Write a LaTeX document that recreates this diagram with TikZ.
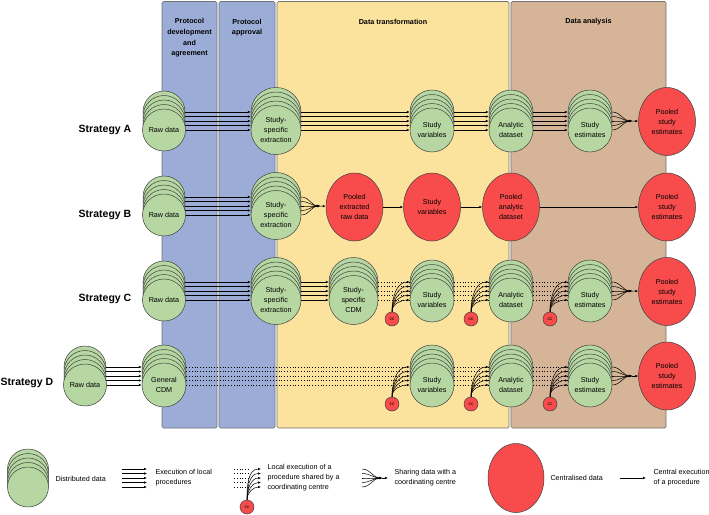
\documentclass[tikz,border=0pt]{standalone}
\usepackage{fontspec}
\setmainfont{Liberation Sans}
\usepackage{tikz}
\usetikzlibrary{shapes.geometric, arrows.meta}

\definecolor{bandblue}{RGB}{155,173,214}
\definecolor{bandyellow}{RGB}{251,226,157}
\definecolor{bandbrown}{RGB}{213,180,152}
\definecolor{distgreen}{RGB}{182,215,162}
\definecolor{centred}{RGB}{248,76,76}

\newcommand{\gstack}[6]{%
  \foreach \k in {4,3,2,1}
    \node[distnode, minimum width=#4pt, minimum height=#5pt] (#1\k) at (#2,#3-4.5*\k) {};
  \node[distnode, minimum width=#4pt, minimum height=#5pt, alias=#1] (#10) at (#2,#3) {#6};
}

\begin{document}
\begin{tikzpicture}[x=1pt, y=-1pt, font=\fontsize{7.2}{10}\selectfont,
  band/.style={draw=black!55, line width=0.7pt, rounded corners=1.5pt},
  bandhead/.style={font=\fontsize{7.2}{10.7}\selectfont\bfseries, align=center},
  strat/.style={font=\fontsize{10.5}{12}\selectfont\bfseries},
  distnode/.style={ellipse, draw=black!75, line width=0.5pt, fill=distgreen, inner sep=0pt, align=center},
  centnode/.style={ellipse, draw=black!75, line width=0.5pt, fill=centred, inner sep=0pt,
    minimum width=57pt, minimum height=68pt, align=center},
  ccnode/.style={circle, draw=black!75, line width=0.5pt, fill=centred, inner sep=0pt,
    minimum size=14pt, font=\fontsize{4.8}{5}\selectfont},
  local/.style={line width=0.5pt, -{Latex[length=3pt,width=2.4pt]}},
  share/.style={line width=0.5pt, -{Latex[length=3pt,width=2.4pt]}},
  central/.style={line width=0.5pt, -{Latex[length=3pt,width=2.4pt]}},
  dotline/.style={line width=0.6pt, dash pattern=on 0.6pt off 2.2pt},
  legtext/.style={anchor=west, align=left}]
  \useasboundingbox[fill=white] (0,0) rectangle (709,514);

  \draw[band, fill=bandblue] (162,1.5) rectangle (217,428);
  \draw[band, fill=bandblue] (219,1.5) rectangle (275,428);
  \draw[band, fill=bandyellow] (277,1.5) rectangle (509,428);
  \draw[band, fill=bandbrown] (511,1.5) rectangle (666,428);
  \node[bandhead] (hdev) at (189.5,38) {Protocol\\development\\and\\agreement};
  \node[bandhead] (happ) at (247,27.5) {Protocol\\approval};
  \node[bandhead] (htra) at (393,22) {Data transformation};
  \node[bandhead] (hana) at (588.5,22) {Data analysis};

  \node[strat] (sa) at (105,130) {Strategy A};
  \node[strat] (sb) at (105,215) {Strategy B};
  \node[strat] (sc) at (105,299) {Strategy C};
  \node[strat] (sd) at (27,383) {Strategy D};

  \gstack{rawa}{164}{130}{42}{42}{Raw data}
  \gstack{exta}{276}{130}{50}{49}{Study-\\specific\\extraction}
  \gstack{vara}{432}{130}{44}{44}{Study\\variables}
  \gstack{anaa}{511}{130}{44}{44}{Analytic\\dataset}
  \gstack{esta}{590}{130}{44}{44}{Study\\estimates}
  \node[centnode] (poola) at (667,121.5) {Pooled\\study\\estimates};
  \coordinate (fana) at (632,121);
  \foreach \k in {0,...,4} {
    \draw[local] (rawa\k) -- (exta\k);
    \draw[local] (exta\k) -- (vara\k);
    \draw[local] (vara\k) -- (anaa\k);
    \draw[local] (anaa\k) -- (esta\k);
    \draw[share] (esta\k.east) to[out=0,in=180] (fana);
  }
  \draw[central] (fana) -- (poola);

  \gstack{rawb}{164}{215}{42}{42}{Raw data}
  \gstack{extb}{276}{215}{50}{49}{Study-\\specific\\extraction}
  \node[centnode] (pexb) at (354.5,207) {Pooled\\extracted\\raw data};
  \node[centnode] (varb) at (432,207) {Study\\variables};
  \node[centnode] (panb) at (511,207) {Pooled\\analytic\\dataset};
  \node[centnode] (poolb) at (667,207) {Pooled\\study\\estimates};
  \coordinate (fanb) at (320,206);
  \foreach \k in {0,...,4} {
    \draw[local] (rawb\k) -- (extb\k);
    \draw[share] (extb\k.east) to[out=0,in=180] (fanb);
  }
  \draw[central] (fanb) -- (pexb);
  \draw[central] (pexb) -- (varb);
  \draw[central] (varb) -- (panb);
  \draw[central] (panb) -- (poolb);

  \gstack{rawc}{164}{300}{42}{42}{Raw data}
  \gstack{extc}{276}{300}{50}{49}{Study-\\specific\\extraction}
  \gstack{cdmc}{353.5}{300}{49}{49}{Study-\\specific\\CDM}
  \gstack{varc}{432}{300}{44}{44}{Study\\variables}
  \gstack{anac}{511}{300}{44}{44}{Analytic\\dataset}
  \gstack{estc}{590}{300}{44}{44}{Study\\estimates}
  \node[centnode] (poolc) at (667,291.5) {Pooled\\study\\estimates};
  \node[ccnode] (ccvarc) at (392,319) {cc};
  \node[ccnode] (ccanac) at (471,319) {cc};
  \node[ccnode] (ccestc) at (550,319) {cc};
  \coordinate (fanc) at (632,291);
  \foreach \k in {0,...,4} {
    \draw[local] (rawc\k) -- (extc\k);
    \draw[local] (extc\k) -- (cdmc\k);
    \draw[dotline] (cdmc\k) -- (varc\k);
    \draw[dotline] (varc\k) -- (anac\k);
    \draw[dotline] (anac\k) -- (estc\k);
    \draw[local] (ccvarc.north) to[out=90,in=180] (varc\k.west);
    \draw[local] (ccanac.north) to[out=90,in=180] (anac\k.west);
    \draw[local] (ccestc.north) to[out=90,in=180] (estc\k.west);
    \draw[share] (estc\k.east) to[out=0,in=180] (fanc);
  }
  \draw[central] (fanc) -- (poolc);

  \gstack{rawd}{85}{385}{42}{42}{Raw data}
  \gstack{cdmd}{164}{385}{44}{44}{General\\CDM}
  \gstack{vard}{432}{385}{44}{44}{Study\\variables}
  \gstack{anad}{511}{385}{44}{44}{Analytic\\dataset}
  \gstack{estd}{590}{385}{44}{44}{Study\\estimates}
  \node[centnode] (poold) at (667,376) {Pooled\\study\\estimates};
  \node[ccnode] (ccvard) at (392,404) {cc};
  \node[ccnode] (ccanad) at (471,404) {cc};
  \node[ccnode] (ccestd) at (550,404) {cc};
  \coordinate (fand) at (632,376);
  \foreach \k in {0,...,4} {
    \draw[local] (rawd\k) -- (cdmd\k);
    \draw[dotline] (cdmd\k) -- (vard\k);
    \draw[dotline] (vard\k) -- (anad\k);
    \draw[dotline] (anad\k) -- (estd\k);
    \draw[local] (ccvard.north) to[out=90,in=180] (vard\k.west);
    \draw[local] (ccanad.north) to[out=90,in=180] (anad\k.west);
    \draw[local] (ccestd.north) to[out=90,in=180] (estd\k.west);
    \draw[share] (estd\k.east) to[out=0,in=180] (fand);
  }
  \draw[central] (fand) -- (poold);

  \gstack{lgd}{28}{487}{41}{40}{}
  \node[legtext] (tdist) at (52,479) {Distributed data};
  \node[ccnode] (cclg) at (247,507) {cc};
  \coordinate (lgfan) at (382,478);
  \foreach \k in {0,...,4} {
    \coordinate (lla\k) at (122,469+4.5*\k);
    \coordinate (llb\k) at (147,469+4.5*\k);
    \draw[local] (lla\k) -- (llb\k);
    \coordinate (lda\k) at (234,469+4.5*\k);
    \coordinate (ldb\k) at (250,469+4.5*\k);
    \coordinate (ldc\k) at (261,469+4.5*\k);
    \draw[dotline] (lda\k) -- (ldb\k);
    \draw[local] (cclg.north) to[out=90,in=180] (ldc\k);
    \coordinate (lsa\k) at (362,469+4.5*\k);
    \draw[share] (lsa\k) to[out=0,in=180] (lgfan);
  }
  \node[legtext] (tloc) at (152,478) {Execution of local\\procedures};
  \node[legtext] (tcc) at (264,478) {Local execution of a\\procedure shared by a\\coordinating centre};
  \coordinate (lgend) at (388,478);
  \draw[central] (lgfan) -- (lgend);
  \node[legtext] (tsha) at (391,478) {Sharing data with a\\coordinating centre};
  \node[centnode, minimum width=56pt, minimum height=69pt] (lgcent) at (516,478) {};
  \node[legtext] (tcen) at (547,478) {Centralised data};
  \coordinate (lcea) at (620,478);
  \coordinate (lceb) at (646,478);
  \draw[central] (lcea) -- (lceb);
  \node[legtext] (tcex) at (650,478) {Central execution\\of a procedure};
\end{tikzpicture}
\end{document}
